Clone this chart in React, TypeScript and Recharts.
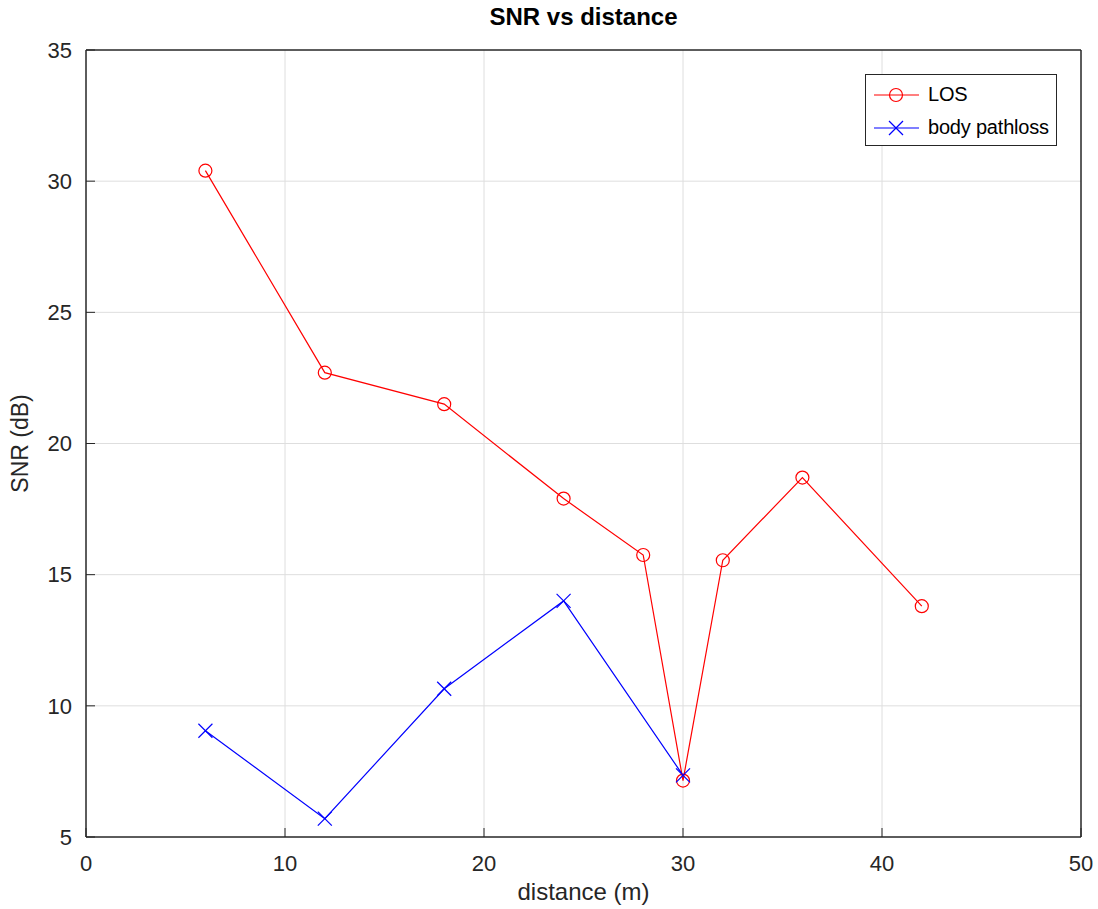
import { ComposedChart, Line, XAxis, YAxis, CartesianGrid } from 'recharts';

const losDistance = [6, 12, 18, 24, 28, 30, 32, 36, 42];
const losSnr = [30.4, 22.7, 21.5, 17.9, 15.75, 7.15, 15.55, 18.7, 13.8];
const bodyDistance = [6, 12, 18, 24, 30];
const bodySnr = [9.05, 5.7, 10.65, 14.0, 7.35];
const xTicks = [0, 10, 20, 30, 40, 50];
const yTicks = [5, 10, 15, 20, 25, 30, 35];

const losData = losDistance.map((d, i) => ({ d, snr: losSnr[i] }));
const bodyData = bodyDistance.map((d, i) => ({ d, snr: bodySnr[i] }));

const FONT = '"Liberation Sans", Arial, sans-serif';
const TXT = '#262626';
const AXIS = { stroke: '#262626', strokeWidth: 1 };
const TICK_STYLE = { fill: TXT, fontSize: 22, fontFamily: FONT };

function CircleDot(props: any) {
  const { cx, cy } = props;
  if (cx == null || cy == null) return null;
  return <circle cx={cx} cy={cy} r={6.5} fill="none" stroke="#ff0000" strokeWidth={1.2} />;
}

function CrossDot(props: any) {
  const { cx, cy } = props;
  if (cx == null || cy == null) return null;
  const s = 7;
  return (
    <g stroke="#0000ff" strokeWidth={1.2}>
      <line x1={cx - s} y1={cy - s} x2={cx + s} y2={cy + s} />
      <line x1={cx - s} y1={cy + s} x2={cx + s} y2={cy - s} />
    </g>
  );
}

function LegendBox() {
  const rows = [
    { label: 'LOS', color: '#ff0000', kind: 'o' },
    { label: 'body pathloss', color: '#0000ff', kind: 'x' },
  ];
  return (
    <div
      style={{
        position: 'absolute',
        left: 865,
        top: 74,
        width: 192,
        height: 72,
        border: '1px solid #262626',
        background: '#fff',
        boxSizing: 'border-box',
        fontFamily: FONT,
        fontSize: 20,
        color: '#000',
        paddingTop: 3,
      }}
    >
      {rows.map((r) => (
        <div key={r.label} style={{ display: 'flex', alignItems: 'center', height: 33 }}>
          <svg width={56} height={20} style={{ marginLeft: 6 }}>
            <line x1={2} y1={10} x2={47} y2={10} stroke={r.color} strokeWidth={1.2} />
            {r.kind === 'o' ? (
              <circle cx={24} cy={10} r={6.5} fill="none" stroke={r.color} strokeWidth={1.2} />
            ) : (
              <g stroke={r.color} strokeWidth={1.2}>
                <line x1={17} y1={3} x2={31} y2={17} />
                <line x1={17} y1={17} x2={31} y2={3} />
              </g>
            )}
          </svg>
          <span style={{ letterSpacing: -0.2 }}>{r.label}</span>
        </div>
      ))}
    </div>
  );
}

export default function App() {
  return (
    <div style={{ position: 'absolute', left: 0, top: 0, width: 1098, height: 909, background: '#fff' }}>
      <div
        style={{
          position: 'absolute',
          left: 86,
          width: 995,
          top: 3,
          textAlign: 'center',
          fontFamily: FONT,
          fontWeight: 'bold',
          fontSize: 24,
          color: '#000',
        }}
      >
        SNR vs distance
      </div>
      <ComposedChart width={1098} height={909} margin={{ top: 49, right: 16, bottom: 0, left: 0 }}>
        <CartesianGrid
          stroke="#dedede"
          strokeWidth={1}
          horizontalValues={yTicks.slice(1, -1)}
          verticalValues={xTicks.slice(1, -1)}
        />
        {/* plot frame */}
        <CartesianGrid
          stroke="#262626"
          strokeWidth={1}
          horizontalValues={[yTicks[0], yTicks[yTicks.length - 1]]}
          verticalValues={[xTicks[0], xTicks[xTicks.length - 1]]}
        />
        <XAxis
          type="number"
          dataKey="d"
          domain={[0, 50]}
          ticks={xTicks}
          allowDataOverflow
          height={72}
          tickSize={-9}
          tickMargin={27}
          tickLine={AXIS}
          axisLine={AXIS}
          tick={TICK_STYLE}
          label={{ value: 'distance (m)', position: 'insideBottom', offset: 9, fill: TXT, fontSize: 24, fontFamily: FONT }}
        />
        <XAxis
          xAxisId="t"
          orientation="top"
          type="number"
          domain={[0, 50]}
          ticks={xTicks}
          height={1}
          tickSize={-9}
          tickLine={AXIS}
          axisLine={AXIS}
          tick={false}
        />
        <YAxis
          type="number"
          domain={[5, 35]}
          ticks={yTicks}
          width={86}
          tickSize={-9}
          tickMargin={23}
          tickLine={AXIS}
          axisLine={AXIS}
          tick={TICK_STYLE}
          label={{ value: 'SNR (dB)', angle: -90, position: 'insideLeft', offset: 20, fill: TXT, fontSize: 23, fontFamily: FONT, style: { textAnchor: 'middle' } }}
        />
        <YAxis
          yAxisId="r"
          orientation="right"
          type="number"
          domain={[5, 35]}
          ticks={yTicks}
          width={1}
          tickSize={-9}
          tickLine={AXIS}
          axisLine={AXIS}
          tick={false}
        />
        <Line
          data={losData}
          dataKey="snr"
          name="LOS"
          stroke="#ff0000"
          strokeWidth={1.2}
          dot={<CircleDot />}
          activeDot={false}
          isAnimationActive={false}
        />
        <Line
          data={bodyData}
          dataKey="snr"
          name="body pathloss"
          stroke="#0000ff"
          strokeWidth={1.2}
          dot={<CrossDot />}
          activeDot={false}
          isAnimationActive={false}
        />
      </ComposedChart>
      <LegendBox />
    </div>
  );
}
